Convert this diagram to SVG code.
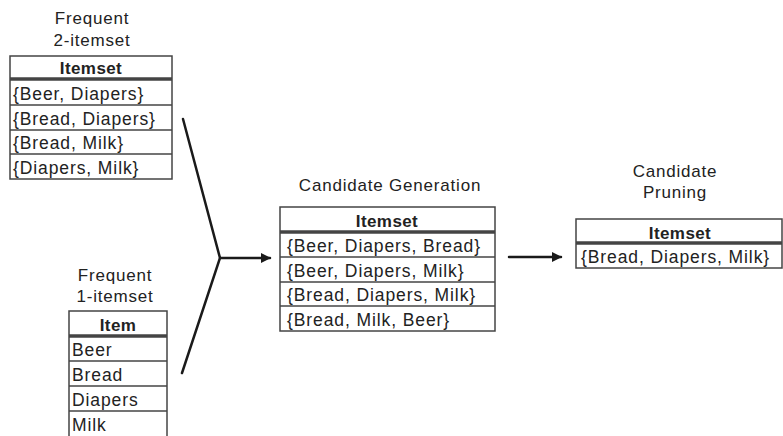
<svg xmlns="http://www.w3.org/2000/svg" width="783" height="436" viewBox="0 0 783 436">
  <style>
    .title { font-family: "Liberation Sans", Arial, sans-serif; font-size: 17px; fill: #222; text-anchor: middle; letter-spacing: 0.8px; }
    .head { font-family: "Liberation Sans", Arial, sans-serif; font-size: 17px; font-weight: bold; fill: #222; text-anchor: middle; letter-spacing: 0.4px; }
    .cell { font-family: "Liberation Sans", Arial, sans-serif; font-size: 17.5px; fill: #222; letter-spacing: 0.9px; }
    .box { fill: #fff; stroke: #444; stroke-width: 1.5; }
    .row { stroke: #444; stroke-width: 1.5; }
    .dbl { stroke: #444; stroke-width: 3.5; }
    .conn { stroke: #1a1a1a; stroke-width: 2.5; fill: none; stroke-linecap: round; }
  </style>
  <defs>
    <marker id="arrow" markerWidth="10" markerHeight="10" refX="9" refY="5" orient="auto" markerUnits="userSpaceOnUse" viewBox="0 0 10 10">
      <path d="M0,0 L10,5 L0,10 Z" fill="#1a1a1a"/>
    </marker>
  </defs>
  <rect width="783" height="436" fill="#fff"/>

  <!-- Frequent 2-itemset table -->
  <g id="frequent-2-itemset">
    <text class="title" x="92" y="24">Frequent</text>
    <text class="title" x="92" y="46">2-itemset</text>
    <rect class="box" x="10" y="56" width="162" height="123"/>
    <line class="dbl" x1="10" y1="79" x2="172" y2="79"/>
    <line class="row" x1="10" y1="105" x2="172" y2="105"/>
    <line class="row" x1="10" y1="130" x2="172" y2="130"/>
    <line class="row" x1="10" y1="154" x2="172" y2="154"/>
    <text class="head" x="91" y="74">Itemset</text>
    <text class="cell" x="13" y="100">{Beer, Diapers}</text>
    <text class="cell" x="13" y="125">{Bread, Diapers}</text>
    <text class="cell" x="13" y="149">{Bread, Milk}</text>
    <text class="cell" x="13" y="174">{Diapers, Milk}</text>
  </g>

  <!-- Frequent 1-itemset table -->
  <g id="frequent-1-itemset">
    <text class="title" x="115" y="281">Frequent</text>
    <text class="title" x="115" y="302">1-itemset</text>
    <rect class="box" x="69" y="311" width="98" height="140"/>
    <line class="dbl" x1="69" y1="336" x2="167" y2="336"/>
    <line class="row" x1="69" y1="361" x2="167" y2="361"/>
    <line class="row" x1="69" y1="386" x2="167" y2="386"/>
    <line class="row" x1="69" y1="411" x2="167" y2="411"/>
    <text class="head" x="118" y="331">Item</text>
    <text class="cell" x="72" y="356">Beer</text>
    <text class="cell" x="72" y="381">Bread</text>
    <text class="cell" x="72" y="406">Diapers</text>
    <text class="cell" x="72" y="431">Milk</text>
  </g>

  <!-- Candidate generation table -->
  <g id="candidate-generation">
    <text class="title" x="390" y="191">Candidate Generation</text>
    <rect class="box" x="280" y="207" width="215" height="124"/>
    <line class="dbl" x1="280" y1="232" x2="495" y2="232"/>
    <line class="row" x1="280" y1="257" x2="495" y2="257"/>
    <line class="row" x1="280" y1="282" x2="495" y2="282"/>
    <line class="row" x1="280" y1="306" x2="495" y2="306"/>
    <text class="head" x="387" y="227">Itemset</text>
    <text class="cell" x="287" y="252">{Beer, Diapers, Bread}</text>
    <text class="cell" x="287" y="277">{Beer, Diapers, Milk}</text>
    <text class="cell" x="287" y="301">{Bread, Diapers, Milk}</text>
    <text class="cell" x="287" y="326">{Bread, Milk, Beer}</text>
  </g>

  <!-- Candidate pruning table -->
  <g id="candidate-pruning">
    <text class="title" x="675" y="177">Candidate</text>
    <text class="title" x="675" y="198">Pruning</text>
    <rect class="box" x="576" y="219" width="206" height="49"/>
    <line class="dbl" x1="576" y1="243" x2="782" y2="243"/>
    <text class="head" x="680" y="239">Itemset</text>
    <text class="cell" x="581" y="263">{Bread, Diapers, Milk}</text>
  </g>

  <!-- Connectors -->
  <g id="connectors">
    <path class="conn" d="M183,119 L220,258 L182,373"/>
    <line class="conn" x1="220" y1="258" x2="270" y2="258" marker-end="url(#arrow)"/>
    <line class="conn" x1="509" y1="257" x2="561" y2="257" marker-end="url(#arrow)"/>
  </g>
</svg>
